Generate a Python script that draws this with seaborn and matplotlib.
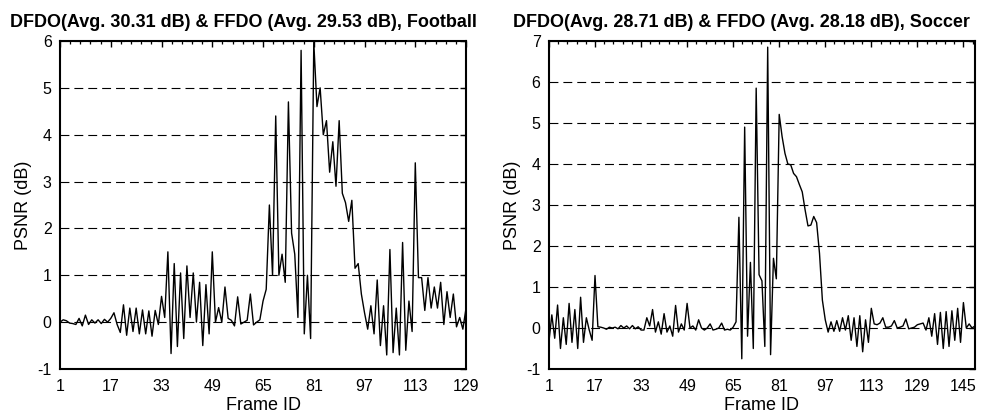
import numpy as np
import pandas as pd
import matplotlib
matplotlib.use("Agg")
import matplotlib.pyplot as plt
import seaborn as sns
from matplotlib.ticker import AutoMinorLocator, FixedLocator

# PSNR difference per frame (dB) for the two test sequences
football_psnr_gain = [
    0.0, 0.05, 0.03, -0.02, -0.03, -0.05, 0.08, -0.08, 0.15, -0.05,
    0.05, -0.02, 0.05, -0.03, 0.06, 0.0, 0.08, 0.2, -0.05, -0.22,
    0.37, -0.28, 0.3, -0.2, 0.3, -0.25, 0.26, -0.25, 0.24, -0.3,
    0.25, -0.05, 0.55, 0.1, 1.5, -0.67, 1.25, -0.52, 1.05, -0.35,
    1.2, 0.1, 1.05, 0.0, 0.85, -0.5, 0.8, -0.25, 1.5, 0.0,
    0.31, 0.0, 0.75, 0.08, 0.04, -0.08, 0.54, -0.04, 0.0, 0.04,
    0.6, -0.06, 0.0, 0.05, 0.45, 0.7, 2.5, 1.0, 4.4, 1.0,
    1.45, 0.85, 4.7, 1.9, 1.45, 0.1, 5.8, -0.25, 1.0, -0.35,
    5.97, 4.6, 5.0, 4.0, 4.3, 3.2, 3.85, 2.9, 4.3, 2.75,
    2.55, 2.15, 2.6, 1.15, 1.25, 0.6, 0.2, -0.15, 0.35, -0.25,
    0.9, -0.5, 0.35, -0.7, 1.55, -0.65, 0.3, -0.7, 1.7, -0.6,
    0.45, -0.2, 3.4, 0.95, 0.95, 0.25, 0.95, 0.3, 0.75, 0.3,
    0.85, -0.05, 0.65, 0.1, 0.6, -0.1, 0.1, -0.15, 0.3,
]

soccer_psnr_gain = [
    -0.33, 0.32, -0.25, 0.56, -0.5, 0.25, -0.4, 0.6, -0.35, 0.45,
    -0.5, 0.75, -0.35, 0.25, -0.05, -0.3, 1.28, 0.03, 0.02, 0.0,
    -0.03, 0.02, 0.0, 0.02, -0.02, 0.06, 0.0, 0.05, -0.02, 0.06,
    -0.02, 0.03, -0.05, -0.05, 0.25, 0.05, 0.45, -0.1, 0.15, -0.15,
    0.35, -0.1, 0.05, -0.2, 0.55, -0.1, 0.1, -0.05, 0.6, 0.0,
    0.05, -0.05, 0.2, 0.0, -0.05, 0.0, 0.1, -0.05, -0.03, 0.0,
    0.12, -0.05, -0.03, -0.05, 0.02, 0.15, 2.7, -0.75, 4.9, -0.2,
    1.6, -0.5, 5.85, 1.3, 1.15, -0.45, 6.85, -0.65, 1.7, 1.2,
    5.21, 4.67, 4.26, 4.0, 3.98, 3.77, 3.69, 3.5, 3.32, 2.88,
    2.49, 2.51, 2.72, 2.57, 1.82, 0.68, 0.2, -0.1, 0.15, -0.08,
    0.18, -0.08, 0.25, -0.05, 0.3, -0.3, 0.25, -0.45, 0.3, -0.58,
    0.2, -0.35, 0.48, 0.1, 0.08, 0.12, 0.25, 0.02, 0.02, 0.05,
    0.18, 0.0, 0.02, 0.05, 0.22, -0.02, 0.0, 0.02, 0.08, 0.1,
    0.12, -0.05, 0.25, -0.2, 0.35, -0.4, 0.38, -0.5, 0.4, -0.45,
    0.42, -0.3, 0.48, -0.35, 0.62, 0.0, 0.1, 0.0, 0.05,
]

football_title = "DFDO(Avg. 30.31 dB) & FFDO (Avg. 29.53 dB), Football"
soccer_title = "DFDO(Avg. 28.71 dB) & FFDO (Avg. 28.18 dB), Soccer"

football_xticks = [1, 17, 33, 49, 65, 81, 97, 113, 129]
soccer_xticks = [1, 17, 33, 49, 65, 81, 97, 113, 129, 145]
football_yticks = [-1, 0, 1, 2, 3, 4, 5, 6]
soccer_yticks = [-1, 0, 1, 2, 3, 4, 5, 6, 7]

x_label = "Frame ID"
y_label = "PSNR (dB)"

sns.set_theme(style="white")
plt.rcParams["font.family"] = ["Liberation Sans", "DejaVu Sans"]
plt.rcParams["axes.unicode_minus"] = False

fig = plt.figure(figsize=(9.99, 4.17), dpi=100)
ax_left = fig.add_axes([0.0601, 0.1151, 0.4064, 0.7866])
ax_right = fig.add_axes([0.5495, 0.1151, 0.4264, 0.7866])


def draw_panel(ax, values, title, xticks, yticks):
    frames = np.arange(1, len(values) + 1)
    df = pd.DataFrame({x_label: frames, y_label: values})
    sns.lineplot(data=df, x=x_label, y=y_label, ax=ax,
                 color="black", linewidth=1.0, zorder=3)
    ax.set_xlim(1, len(values))
    ax.set_ylim(yticks[0], yticks[-1])
    ax.xaxis.set_major_locator(FixedLocator(xticks))
    ax.xaxis.set_minor_locator(AutoMinorLocator(5))
    ax.yaxis.set_major_locator(FixedLocator(yticks))

    ax.yaxis.grid(True, linestyle=(0, (8, 4.5)), color="black", linewidth=0.8)
    ax.xaxis.grid(False)

    for spine in ax.spines.values():
        spine.set_visible(True)
        spine.set_color("black")
        spine.set_linewidth(1.5)

    ax.tick_params(axis="both", which="both", direction="in",
                   top=True, right=True, colors="black")
    ax.tick_params(axis="both", which="major", length=4, width=1.0,
                   labelsize=11.5, pad=6)
    ax.tick_params(axis="x", which="minor", length=2.5, width=0.9)
    ax.tick_params(axis="x", which="major", pad=7)

    ax.set_xlabel(x_label, fontsize=13, labelpad=2, color="black")
    ax.set_ylabel(y_label, fontsize=13, labelpad=4, color="black")
    ax.set_title(title, fontsize=13, fontweight="bold", pad=10,
                 color="black", x=0.452)


draw_panel(ax_left, football_psnr_gain, football_title, football_xticks, football_yticks)
draw_panel(ax_right, soccer_psnr_gain, soccer_title, soccer_xticks, soccer_yticks)

fig.savefig("out.png", dpi=100, facecolor="white")
